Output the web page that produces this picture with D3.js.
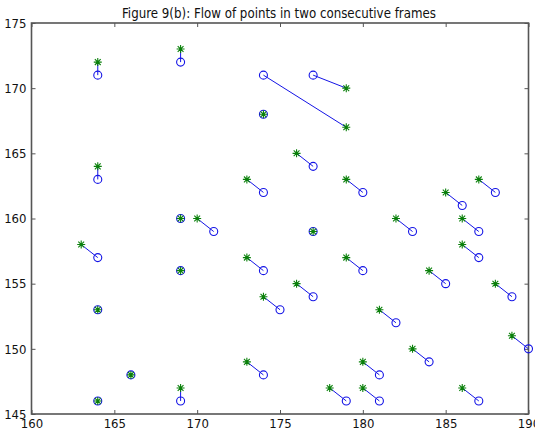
<!DOCTYPE html>
<html>
<head>
<meta charset="utf-8">
<script src="https://cdn.jsdelivr.net/npm/d3@7"></script>
<style>
  html, body { margin: 0; padding: 0; background: #ffffff; }
  svg { display: block; }
  text { font-family: "Liberation Sans Narrow", "DejaVu Sans Condensed", "Arial Narrow", sans-serif; fill: #111; }
</style>
</head>
<body>
<svg id="chart" width="535" height="436"></svg>
<script>
// Frame 1 points (blue circles)
const circleX = [164,169,174,177,174,164,177,174,180,186,188,183,187,169,171,177,164,169,174,177,175,180,187,185,189,164,182,184,190,174,181,166,169,179,181,187,164];
const circleY = [171,172,171,171,168,163,164,162,162,161,162,159,159,160,159,159,157,156,156,154,153,156,157,155,154,153,152,149,150,148,148,148,146,146,146,146,146];
// Frame 2 points (green asterisks)
const starX = [164,169,179,179,174,164,176,173,179,185,187,182,186,169,170,177,163,169,173,176,174,179,186,184,188,164,181,183,189,173,180,166,169,178,180,186,164];
const starY = [172,173,167,170,168,164,165,163,163,162,163,160,160,160,160,159,158,156,157,155,154,157,158,156,155,153,153,150,151,149,149,148,147,147,147,147,146];
const xTicks = [160,165,170,175,180,185,190];
const yTicks = [145,150,155,160,165,170,175];
const xDomain = [160,190];
const yDomain = [145,175];
const titleText = "Figure 9(b): Flow of points in two consecutive frames";

const W = 535, H = 436;
const m = {left: 31.5, right: 535 - 528.5, top: 23, bottom: 436 - 414};
const svg = d3.select("#chart");
const x = d3.scaleLinear().domain(xDomain).range([m.left, W - m.right]);
const y = d3.scaleLinear().domain(yDomain).range([H - m.bottom, m.top]);

const pairs = circleX.map((cx, i) => ({cx, cy: circleY[i], sx: starX[i], sy: starY[i]}));

const axisColor = "#555";
const fs = 13;

// Axes
const gB = svg.append("g").attr("transform", `translate(0,${y(yDomain[0])})`)
  .call(d3.axisBottom(x).tickValues(xTicks).tickFormat(d3.format("d")).tickSizeInner(-4).tickSizeOuter(0).tickPadding(5));
const gT = svg.append("g").attr("transform", `translate(0,${y(yDomain[1])})`)
  .call(d3.axisTop(x).tickValues(xTicks).tickFormat("").tickSizeInner(-4).tickSizeOuter(0));
const gL = svg.append("g").attr("transform", `translate(${x(xDomain[0])},0)`)
  .call(d3.axisLeft(y).tickValues(yTicks).tickFormat(d3.format("d")).tickSizeInner(-4).tickSizeOuter(0).tickPadding(5));
const gR = svg.append("g").attr("transform", `translate(${x(xDomain[1])},0)`)
  .call(d3.axisRight(y).tickValues(yTicks).tickFormat("").tickSizeInner(-4).tickSizeOuter(0));

[gB, gT, gL, gR].forEach(g => {
  g.select(".domain").remove();
  g.selectAll(".tick line").attr("stroke", axisColor).attr("stroke-width", 1);
  g.selectAll(".tick text").attr("font-size", fs).attr("fill", "#111")
    .style("font-family", '"Liberation Sans Narrow", "DejaVu Sans Condensed", sans-serif');
});
// keep first/last labels as in reference (drawn near the corner)
gL.selectAll(".tick text").attr("x", -5);

// Frame
svg.append("rect")
  .attr("x", x(xDomain[0])).attr("y", y(yDomain[1]))
  .attr("width", x(xDomain[1]) - x(xDomain[0]))
  .attr("height", y(yDomain[0]) - y(yDomain[1]))
  .attr("fill", "none").attr("stroke", axisColor).attr("stroke-width", 1.6);

// Title
svg.append("text")
  .attr("x", (x(xDomain[0]) + x(xDomain[1])) / 2 - 1)
  .attr("y", 18)
  .attr("text-anchor", "middle")
  .attr("font-size", 14)
  .attr("textLength", 314)
  .attr("lengthAdjust", "spacingAndGlyphs")
  .text(titleText);

const blue = "#1414e6", green = "#0a800a";

// Flow lines
svg.append("g").selectAll("line").data(pairs).join("line")
  .attr("x1", d => x(d.cx)).attr("y1", d => y(d.cy))
  .attr("x2", d => x(d.sx)).attr("y2", d => y(d.sy))
  .attr("stroke", blue).attr("stroke-width", 1);

// Circles
svg.append("g").selectAll("circle").data(pairs).join("circle")
  .attr("cx", d => x(d.cx)).attr("cy", d => y(d.cy)).attr("r", 4)
  .attr("fill", "none").attr("stroke", blue).attr("stroke-width", 1.1);

// Asterisks
const star = "M-4,0L4,0M0,-4L0,4M-2.9,-2.9L2.9,2.9M-2.9,2.9L2.9,-2.9";
svg.append("g").selectAll("path").data(pairs).join("path")
  .attr("transform", d => `translate(${x(d.sx)},${y(d.sy)})`)
  .attr("d", star)
  .attr("fill", "none").attr("stroke", green).attr("stroke-width", 1.1);
</script>
</body>
</html>
